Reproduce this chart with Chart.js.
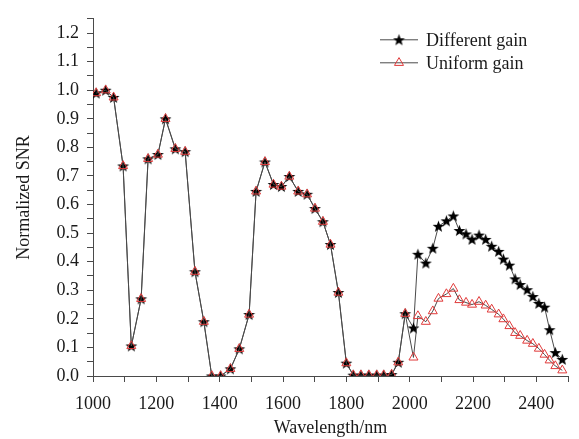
<!DOCTYPE html>
<html>
<head>
<meta charset="utf-8">
<script src="https://cdn.jsdelivr.net/npm/chart.js@4.4.1/dist/chart.umd.min.js"></script>
<style>
html,body{margin:0;padding:0;background:#fff;}
#wrap{width:579px;height:439px;}
</style>
</head>
<body>
<div id="wrap"><canvas id="c" width="579" height="439"></canvas></div>
<script>
// ---- data ----
const wavelengths = [1010,1040,1065,1095,1121,1152,1174,1205,1229,1260,1291,1322,1350,1375,1403,1434,1462,1493,1515,1543,1570,1595,1620,1648,1676,1701,1726,1750,1775,1800,1822,1846,1871,1896,1918,1943,1964,1986,2012,2026,2051,2073,2091,2116,2138,2157,2178,2197,2219,2240,2259,2281,2296,2315,2333,2349,2371,2389,2408,2426,2442,2460,2482];
const differentGain = [0.99,1.00,0.975,0.735,0.105,0.27,0.76,0.775,0.90,0.795,0.785,0.365,0.19,0.0,0.0,0.025,0.095,0.215,0.646,0.749,0.67,0.663,0.698,0.646,0.636,0.586,0.54,0.46,0.292,0.045,0.003,0.003,0.003,0.003,0.003,0.005,0.048,0.218,
  0.168,0.426,0.395,0.447,0.524,0.543,0.56,0.509,0.497,0.478,0.493,0.478,0.454,0.436,0.409,0.388,0.340,0.320,0.302,0.278,0.254,0.241,0.162,0.082,0.058];
const uniformGain = [0.99,1.00,0.975,0.735,0.105,0.27,0.76,0.775,0.90,0.795,0.785,0.365,0.19,0.0,0.0,0.025,0.095,0.215,0.646,0.749,0.67,0.663,0.698,0.646,0.636,0.586,0.54,0.46,0.292,0.045,0.003,0.003,0.003,0.003,0.003,0.005,0.048,0.218,
  0.065,0.21,0.19,0.227,0.271,0.287,0.306,0.266,0.257,0.25,0.26,0.247,0.233,0.216,0.199,0.175,0.151,0.141,0.124,0.113,0.096,0.075,0.055,0.035,0.02];
const seriesNames = ['Different gain','Uniform gain'];
const xTickLabels = [1000,1200,1400,1600,1800,2000,2200,2400];
const yTickLabels = [0.0,0.1,0.2,0.3,0.4,0.5,0.6,0.7,0.8,0.9,1.0,1.1,1.2];

// ---- styles ----
const FONT = "'Liberation Serif','Times New Roman',serif";
const TXT = '#1a1a1a';
const LINE = '#4a4a4a';
const RED = '#e03a3a';

function makeStar(size, color){
  const cv = document.createElement('canvas');
  cv.width = size; cv.height = size;
  const g = cv.getContext('2d');
  const cx = size/2, cy = size/2 + 0.5, R = size/2 - 0.3, r = R*0.42;
  g.beginPath();
  for(let i=0;i<10;i++){
    const rad = i%2===0 ? R : r;
    const a = -Math.PI/2 + i*Math.PI/5;
    const px = cx + rad*Math.cos(a), py = cy + rad*Math.sin(a);
    if(i===0) g.moveTo(px,py); else g.lineTo(px,py);
  }
  g.closePath();
  g.fillStyle = color; g.fill();
  return cv;
}
const starImg = makeStar(13, '#000');

const toPts = (ys) => wavelengths.map((w,i)=>({x:w,y:ys[i]}));

const legendPlugin = {
  id:'customLegend',
  afterDraw(chart){
    const ctx = chart.ctx, ca = chart.chartArea;
    const x0 = ca.right - 188, x1 = x0 + 38, tx = x1 + 8;
    const rows = [ca.top + 21, ca.top + 44];
    ctx.save();
    ctx.font = "18px " + FONT;
    ctx.textBaseline = 'middle';
    rows.forEach((y,i)=>{
      ctx.strokeStyle = LINE; ctx.lineWidth = 1;
      ctx.beginPath(); ctx.moveTo(x0,y); ctx.lineTo(x1,y); ctx.stroke();
      const mx = (x0+x1)/2;
      if(i===0){
        ctx.drawImage(starImg, mx-starImg.width/2, y-starImg.height/2);
      } else {
        ctx.fillStyle = 'rgba(255,255,255,0)';
        ctx.strokeStyle = RED; ctx.lineWidth = 1;
        Chart.helpers.drawPoint(ctx,{pointStyle:'triangle',rotation:0,radius:5.2,borderWidth:1}, mx, y);
      }
      ctx.fillStyle = TXT;
      ctx.fillText(seriesNames[i], tx, y+1);
    });
    ctx.restore();
  }
};

Chart.defaults.font.family = FONT;
Chart.defaults.color = TXT;

new Chart(document.getElementById('c'), {
  type:'line',
  data:{
    datasets:[
      {
        label: seriesNames[1],
        data: toPts(uniformGain),
        borderColor: LINE, borderWidth: 1,
        pointStyle:'triangle', pointRadius:5.2, pointBorderColor: RED,
        pointBackgroundColor:'rgba(255,255,255,0)', pointBorderWidth:1,
        order: 0, tension:0
      },
      {
        label: seriesNames[0],
        data: toPts(differentGain),
        borderColor: LINE, borderWidth: 1,
        pointStyle: starImg, pointRadius:5,
        order: 1, tension:0
      }
    ]
  },
  options:{
    responsive:false, animation:false, devicePixelRatio:1,
    layout:{padding:{top:12,right:2,left:0,bottom:0}},
    plugins:{legend:{display:false}, tooltip:{enabled:false}},
    scales:{
      x:{
        type:'linear', min:1000, max:2500,
        border:{display:true,color:LINE,width:1},
        grid:{display:true,drawOnChartArea:false,drawTicks:true,tickLength:6,color:LINE},
        ticks:{stepSize:100,autoSkip:false,maxRotation:0,padding:11,font:{size:18},color:TXT,
          callback:(v)=> xTickLabels.includes(v) ? String(v) : ''},
        title:{display:true,text:'Wavelength/nm',font:{size:18},color:TXT,padding:{top:0,bottom:0}},
        afterFit:(s)=>{s.height = 63;}
      },
      y:{
        type:'linear', min:0, max:1.25,
        border:{display:true,color:LINE,width:1},
        grid:{display:true,drawOnChartArea:false,drawTicks:true,tickLength:6,color:LINE},
        ticks:{stepSize:0.05,autoSkip:false,padding:8,font:{size:18},color:TXT,
          callback:(v)=>{ const k = Math.round(v*100); return (k%10===0 && yTickLabels.some(t=>Math.round(t*100)===k)) ? (k/100).toFixed(1) : ''; }},
        title:{display:true,text:'Normalized SNR',font:{size:18},color:TXT,padding:{top:13,bottom:0}},
        afterFit:(s)=>{s.width = 93;}
      }
    }
  },
  plugins:[legendPlugin]
});
</script>
</body>
</html>
